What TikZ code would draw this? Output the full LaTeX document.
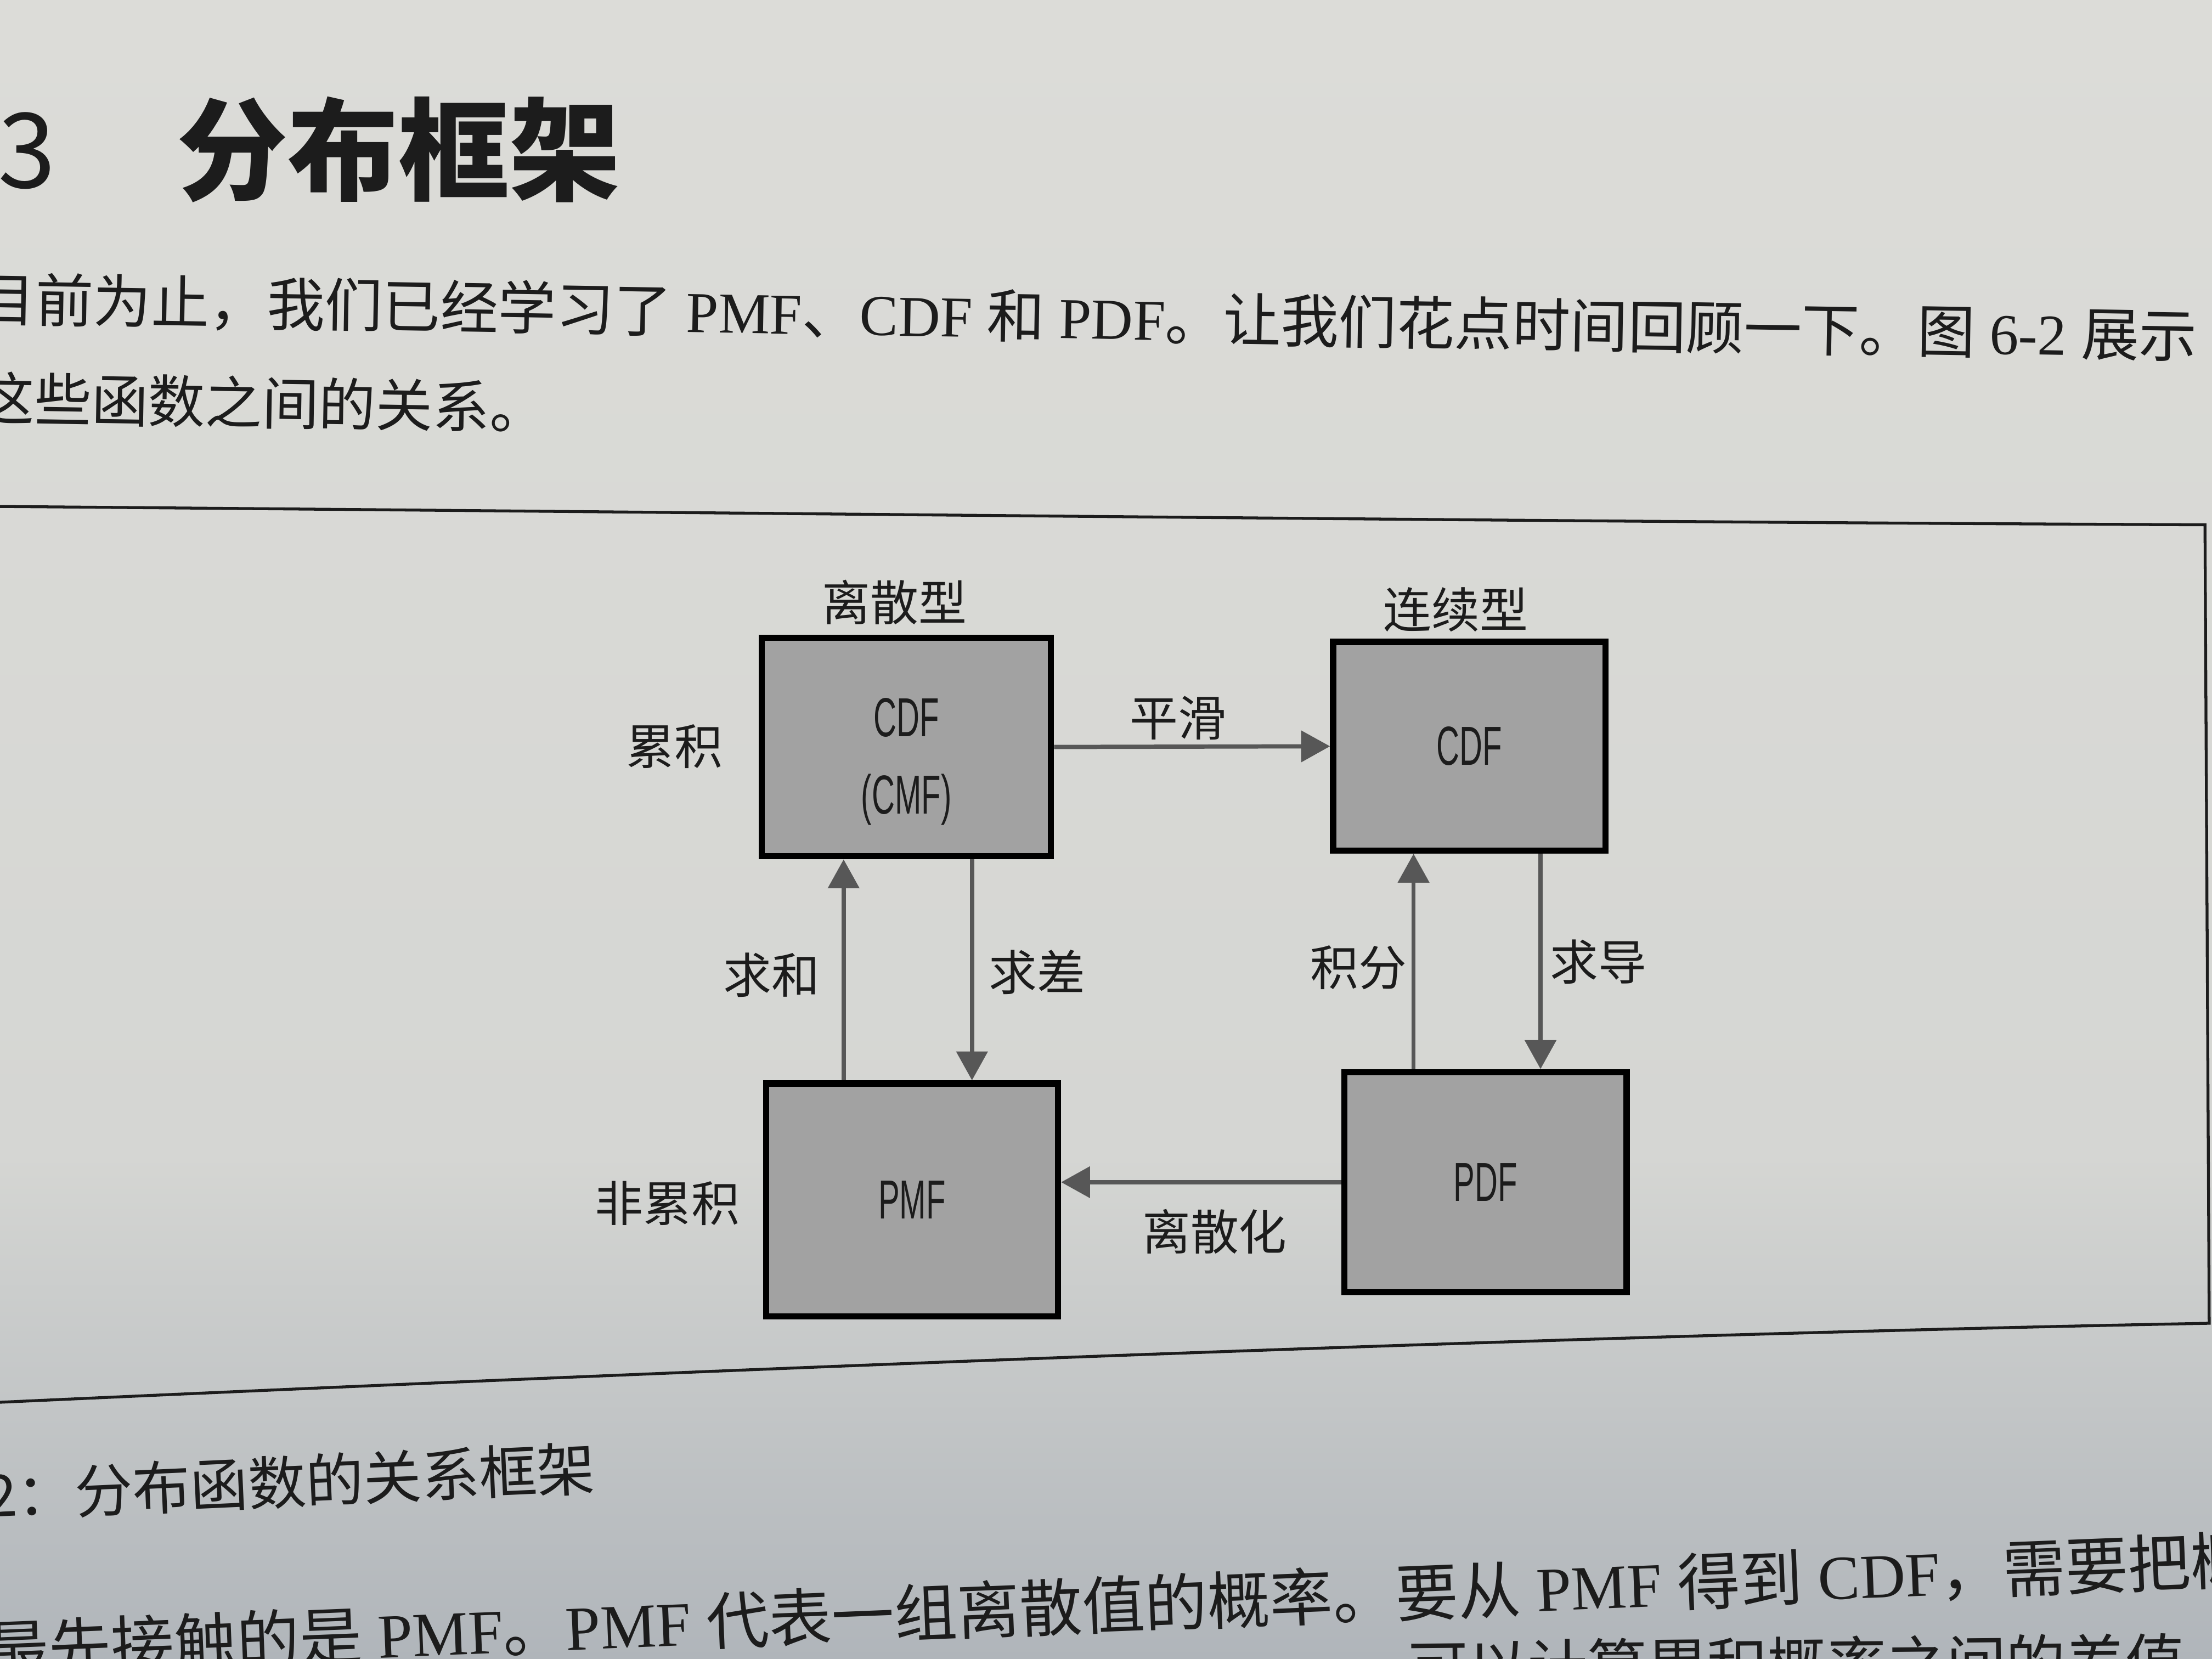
\documentclass[tikz,border=0pt]{standalone}
\usepackage{fontspec}
\setmainfont{Liberation Serif}
\newfontfamily\cjk{Noto Sans CJK SC}
\newfontfamily\cond[FakeStretch=0.58]{Liberation Sans}
\usetikzlibrary{arrows.meta}
\definecolor{paperTop}{HTML}{DCDCD8}
\definecolor{paperMid}{HTML}{D5D6D3}
\definecolor{paperBot}{HTML}{B0B5BA}
\definecolor{boxgray}{HTML}{A2A2A2}
\definecolor{ink}{HTML}{1C1C1C}
\definecolor{arrgray}{HTML}{575757}
\def\U{0.025714cm}
\begin{document}
\begin{tikzpicture}[x=0.025714cm,y=-0.025714cm,
  box/.style={draw=black, line width=3.2pt, fill=boxgray, inner sep=0pt, align=center,
              text=ink, font=\cond\fontsize{28.5}{40}\selectfont},
  boxtext/.style={inner sep=0pt, align=center, text=ink, font=\cond\fontsize{28.5}{40}\selectfont},
  lab/.style={inner sep=0pt, text=ink, font=\cjk\fontsize{25}{30}\selectfont},
  arr/.style={draw=arrgray, line width=2.2pt, -{Triangle[width=16pt,length=15pt]}},
  frameline/.style={draw=ink, line width=1.5pt},
  pagetext/.style={inner sep=0pt, anchor=west, text=ink}]
\useasboundingbox (0,0) rectangle (1568,1176);
\clip (0,0) rectangle (1568,1176);
\shade[top color=paperTop, bottom color=paperMid] (0,0) rectangle (1568,820);
\shade[top color=paperMid, bottom color=paperBot] (0,819) rectangle (1568,1176);

% heading
\node[inner sep=0pt, anchor=east, text=ink, font=\cjk\fontsize{54}{60}\selectfont] (hnum) at (40,107) {3};
\node[inner sep=0pt, anchor=west, text=ink, font=\cjk\bfseries\fontsize{57.5}{60}\selectfont] (head) at (125,106) {分布框架};

% paragraph
\node[pagetext, rotate=-0.95, font=\fontsize{30}{34}\selectfont] (p1) at (-16,212)
  {{\cjk 目前为止，我们已经学习了} PMF{\cjk 、}CDF {\cjk 和} PDF{\cjk 。让我们花点时间回顾一下。图} 6-2 {\cjk 展示}};
\node[pagetext, rotate=-0.95, font=\fontsize{29.5}{34}\selectfont] (p2) at (-16,282)
  {{\cjk 这些函数之间的关系。}};

% figure frame
\draw[frameline] (0,359) .. controls (600,364) and (1100,370) .. (1563,372)
  -- (1566,938) .. controls (1200,945) and (700,962) .. (0,994);

% boxes
\node[box, minimum width=205*\U, minimum height=155*\U] (cmf) at (642.5,529.5) {};
\node[boxtext] (cmftext) at (642.5,540) {CDF\\(CMF)};
\node[box, minimum width=193*\U, minimum height=148*\U] (cdf) at (1041.5,529) {CDF};
\node[box, minimum width=207*\U, minimum height=165*\U] (pmf) at (646.5,850.5) {PMF};
\node[box, minimum width=200*\U, minimum height=156*\U] (pdf) at (1053,838) {PDF};

% labels
\node[lab] (ldisc) at (634,427) {离散型};
\node[lab] (lcont) at (1032,432) {连续型};
\node[lab] (lcum) at (478,529) {累积};
\node[lab] (lnon) at (473,853) {非累积};
\node[lab] (lsmooth) at (835,509) {平滑};
\node[lab] (lsum) at (547,691) {求和};
\node[lab] (ldiff) at (735,689) {求差};
\node[lab] (lint) at (963,686) {积分};
\node[lab] (lder) at (1133,682) {求导};
\node[lab] (ldiscr) at (861,873) {离散化};

% connectors
\coordinate (xa) at (598,0);
\coordinate (xb) at (689,0);
\coordinate (xc) at (1002,0);
\coordinate (xd) at (1092,0);
\draw[arr] (cmf.east) -- (cdf.west);
\draw[arr] (pmf.north -| xa) -- (cmf.south -| xa);
\draw[arr] (cmf.south -| xb) -- (pmf.north -| xb);
\draw[arr] (pdf.north -| xc) -- (cdf.south -| xc);
\draw[arr] (cdf.south -| xd) -- (pdf.north -| xd);
\draw[arr] (pdf.west) -- (pmf.east |- pdf.west);

% caption
\node[pagetext, rotate=2.6, font=\cjk\fontsize{30}{34}\selectfont] (cap) at (-11,1060)
  {2：分布函数的关系框架};

% following text
\node[pagetext, rotate=2.3, font=\fontsize{32.5}{36}\selectfont] (b1) at (-10,1170)
  {{\cjk 最先接触的是} PMF{\cjk 。}PMF {\cjk 代表一组离散值的概率。要从} PMF {\cjk 得到} CDF{\cjk ，需要把概}};
\node[pagetext, rotate=0.5, font=\cjk\fontsize{31}{36}\selectfont] (b2) at (998,1182)
  {可以计算累积概率之间的差值};
\end{tikzpicture}
\end{document}
